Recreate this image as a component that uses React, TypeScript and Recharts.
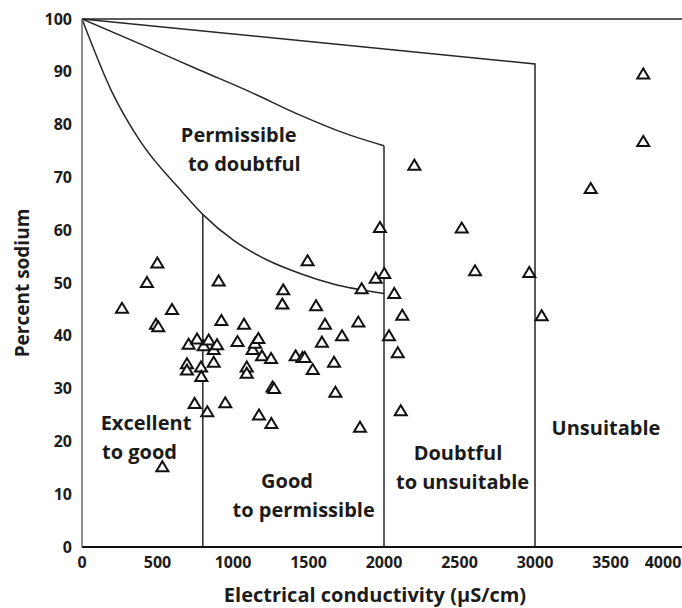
import React from "react";
import {
  ComposedChart,
  Line,
  Scatter,
  XAxis,
  YAxis,
  ReferenceDot,
} from "recharts";

// sample points: electrical conductivity (µS/cm) and percent sodium
const sampleEc = [
  265, 430, 499, 490, 505, 596, 532, 695, 695, 706, 746, 762, 788, 790, 806,
  830, 839, 872, 872, 894, 905, 923, 949, 1030, 1073, 1091, 1091, 1130, 1146,
  1168, 1172, 1192, 1252, 1254, 1262, 1272, 1327, 1333, 1415, 1460, 1475, 1494,
  1528, 1550, 1589, 1609, 1669, 1678, 1722, 1830, 1841, 1852, 1945, 1973, 2002,
  2033, 2068, 2091, 2111, 2121, 2201, 2515, 2603, 2962, 3044, 3369, 3717, 3717,
];
const sampleNa = [
  45.2, 50.1, 53.8, 42.2, 41.7, 45.0, 15.2, 34.7, 33.5, 38.4, 27.2, 39.4, 34.1,
  32.3, 38.1, 25.6, 39.2, 37.4, 35.0, 38.3, 50.4, 42.9, 27.3, 38.9, 42.2, 34.1,
  32.9, 37.4, 38.6, 39.5, 25.0, 36.2, 35.7, 23.4, 30.3, 30.0, 46.0, 48.7, 36.2,
  35.9, 35.9, 54.2, 33.6, 45.7, 38.8, 42.2, 35.0, 29.3, 40.0, 42.6, 22.7, 48.9,
  50.9, 60.5, 51.8, 40.0, 48.0, 36.8, 25.8, 43.9, 72.3, 60.4, 52.3, 52.0, 43.8,
  67.9, 89.6, 76.8,
];

// Wilcox class boundaries
const topLine = [
  { ec: 0, na: 100 },
  { ec: 4000, na: 100 },
];
const unsuitableLine = [
  { ec: 0, na: 100 },
  { ec: 3000, na: 91.5 },
  { ec: 3000, na: 0 },
];
const middleCurve = [
  { ec: 0, na: 100 },
  { ec: 415, na: 94.9 },
  { ec: 781, na: 90.3 },
  { ec: 1113, na: 86.2 },
  { ec: 1444, na: 81.8 },
  { ec: 1775, na: 78.0 },
  { ec: 2000, na: 76.0 },
];
const middleDrop = [
  { ec: 2000, na: 76.0 },
  { ec: 2000, na: 0 },
];
const lowerCurve = [
  { ec: 0, na: 100 },
  { ec: 195, na: 86.4 },
  { ec: 382, na: 77.0 },
  { ec: 662, na: 67.3 },
  { ec: 803, na: 62.9 },
  { ec: 1002, na: 58.1 },
  { ec: 1223, na: 54.4 },
  { ec: 1444, na: 51.8 },
  { ec: 1664, na: 49.8 },
  { ec: 2000, na: 48.0 },
];
const lowerDrop = [
  { ec: 800, na: 62.9 },
  { ec: 800, na: 0 },
];

const xTicks = [0, 500, 1000, 1500, 2000, 2500, 3000, 3500, 4000];
const yTicks = [0, 10, 20, 30, 40, 50, 60, 70, 80, 90, 100];

const regionText = [
  "Permissible",
  "to doubtful",
  "Excellent",
  "to good",
  "Good",
  "to permissible",
  "Doubtful",
  "to unsuitable",
  "Unsuitable",
];
const regionEc = [1038, 1075, 424, 381, 1358, 1468, 2490, 2520, 3470];
const regionNa = [78.0, 72.5, 23.5, 18.0, 12.6, 7.0, 17.9, 12.4, 22.6];

const samples = sampleEc.map((ec, i) => ({ ec, na: sampleNa[i] }));

const FONT = "'Open Sans', 'Noto Sans', sans-serif";
const INK = "#1b1b1b";

const Triangle = (props: any) => {
  const { cx, cy } = props;
  if (cx == null || cy == null) return null;
  const d = `M${cx},${cy - 5.5} L${cx - 6},${cy + 4.5} L${cx + 6},${cy + 4.5} Z`;
  return <path d={d} fill="#fff" stroke="#111" strokeWidth={2} strokeLinejoin="miter" />;
};

// last x label is pulled in so it stays inside the picture
const XTick = (props: any) => {
  const { x, y, payload } = props;
  const shift = payload.value === 4000 ? -23 : 0;
  return (
    <text x={x + shift} y={y} dy="0.71em" textAnchor="middle" fill={INK} fontSize={16} fontWeight={700} fontFamily={FONT}>
      {payload.value}
    </text>
  );
};

const YTick = (props: any) => {
  const { x, y, payload } = props;
  return (
    <text x={x} y={y} dy="0.355em" textAnchor="end" fill={INK} fontSize={16} fontWeight={700} fontFamily={FONT}>
      {payload.value}
    </text>
  );
};

const boundary = { stroke: "#262626", strokeWidth: 1.5, dot: false, isAnimationActive: false, activeDot: false, legendType: "none" as const };

export default function App() {
  return (
    <div style={{ position: "fixed", left: 0, top: 0, width: 682, height: 608, overflow: "hidden", background: "#fff" }}>
      <ComposedChart width={700} height={608} margin={{ top: 19, right: 14, bottom: 0, left: 0 }}>
        <XAxis
          type="number"
          dataKey="ec"
          domain={[0, 4000]}
          ticks={xTicks}
          interval={0}
          allowDataOverflow
          height={61}
          tickLine={false}
          tickMargin={4}
          axisLine={{ stroke: "#111", strokeWidth: 2.2 }}
          tick={<XTick />}
          label={(p: any) => {
            const vb = p.viewBox;
            return (
              <text x={vb.x + vb.width / 2 - 9} y={vb.y + 47} textAnchor="middle" dominantBaseline="central" fill={INK} fontSize={20} fontWeight={700} fontFamily={FONT}>
                Electrical conductivity (µS/cm)
              </text>
            );
          }}
        />
        <YAxis
          type="number"
          domain={[0, 100]}
          ticks={yTicks}
          interval={0}
          width={82}
          tickLine={false}
          tickMargin={4}
          axisLine={{ stroke: "#6a6a6a", strokeWidth: 1.5 }}
          tick={<YTick />}
          label={(p: any) => {
            const vb = p.viewBox;
            const x = vb.x + 22;
            const y = vb.y + vb.height / 2;
            return (
              <text x={x} y={y} transform={`rotate(-90, ${x}, ${y})`} textAnchor="middle" dominantBaseline="central" fill={INK} fontSize={19} fontWeight={700} fontFamily={FONT}>
                Percent sodium
              </text>
            );
          }}
        />
        <Line data={topLine} dataKey="na" type="linear" {...boundary} />
        <Line data={unsuitableLine} dataKey="na" type="linear" {...boundary} />
        <Line data={middleCurve} dataKey="na" type="monotone" {...boundary} />
        <Line data={middleDrop} dataKey="na" type="linear" {...boundary} />
        <Line data={lowerCurve} dataKey="na" type="monotone" {...boundary} />
        <Line data={lowerDrop} dataKey="na" type="linear" {...boundary} />
        <Scatter data={samples} dataKey="na" shape={Triangle} isAnimationActive={false} />
        {regionText.map((t, i) => (
          <ReferenceDot
            key={t}
            x={regionEc[i]}
            y={regionNa[i]}
            r={0}
            fill="none"
            stroke="none"
            label={{ value: t, position: "center", fill: INK, fontSize: 20, fontWeight: 700, fontFamily: FONT }}
          />
        ))}
      </ComposedChart>
    </div>
  );
}
